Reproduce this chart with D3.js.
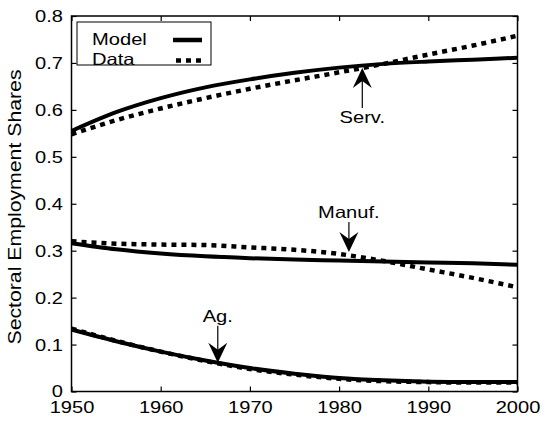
<!DOCTYPE html>
<html lang="en">
<head>
    <meta charset="UTF-8">
    <title>Sectoral Employment Shares</title>
    <style>
        body { margin: 0; background: #fff; }
        text { font-family: "Liberation Sans", Arial, sans-serif; fill: #000; }
    </style>
</head>
<body>
<div id="chart"></div>
<script src="https://d3js.org/d3.v7.min.js"></script>
<script>
    // data
    const years = [1950, 1955, 1960, 1965, 1970, 1975, 1980, 1985, 1990, 1995, 2000];
    const servModel = [0.555, 0.595, 0.625, 0.648, 0.665, 0.679, 0.690, 0.698, 0.703, 0.707, 0.711];
    const servData  = [0.548, 0.578, 0.603, 0.625, 0.645, 0.663, 0.680, 0.698, 0.718, 0.737, 0.758];
    const manufModel = [0.316, 0.303, 0.294, 0.288, 0.284, 0.281, 0.279, 0.277, 0.275, 0.273, 0.270];
    const manufData  = [0.320, 0.315, 0.313, 0.312, 0.307, 0.302, 0.293, 0.278, 0.260, 0.242, 0.222];
    const agModel = [0.132, 0.107, 0.085, 0.066, 0.050, 0.038, 0.029, 0.024, 0.021, 0.020, 0.020];
    const agData  = [0.134, 0.108, 0.085, 0.065, 0.048, 0.036, 0.027, 0.022, 0.020, 0.019, 0.019];
    const xTicks = [1950, 1960, 1970, 1980, 1990, 2000];
    const yTicks = [0, 0.1, 0.2, 0.3, 0.4, 0.5, 0.6, 0.7, 0.8];
    // annotations: label, year and share at the arrow tip
    const notes = [
        {label: "Serv.", year: 1982.6, value: 0.689, dir: "up", len: 40},
        {label: "Manuf.", year: 1981.1, value: 0.297, dir: "down", len: 30},
        {label: "Ag.", year: 1966.4, value: 0.061, dir: "down", len: 37}
    ];

    const W = 545, H = 432;
    const margin = {top: 16, right: 27.5, bottom: 40.5, left: 71.5};
    const width = W - margin.left - margin.right,
        height = H - margin.top - margin.bottom;

    // the reference text is a bit wider than plain helvetica
    function stretch(sel, k) {
        sel.each(function () {
            const len = this.getComputedTextLength();
            d3.select(this).attr("textLength", len * k).attr("lengthAdjust", "spacingAndGlyphs");
        });
    }

    const svg = d3.select("#chart").append("svg")
        .attr("width", W).attr("height", H);

    const g = svg.append("g")
        .attr("transform", `translate(${margin.left},${margin.top})`);

    const x = d3.scaleLinear().domain([1950, 2000]).range([0, width]);
    const y = d3.scaleLinear().domain([0, 0.8]).range([height, 0]);

    // axes, matlab style: ticks inside on every side
    const fmtY = d => d === 0 ? "0" : d3.format(".1f")(d);
    g.append("g").attr("transform", `translate(0,${height})`)
        .call(d3.axisBottom(x).tickValues(xTicks).tickFormat(d3.format("d")).tickSizeInner(-5).tickSizeOuter(0).tickPadding(9))
        .call(a => a.selectAll("text").style("font-size", "17px").attr("dy", "0.72em").call(stretch, 1.18));
    g.append("g")
        .call(d3.axisTop(x).tickValues(xTicks).tickFormat("").tickSizeInner(-5).tickSizeOuter(0));
    g.append("g")
        .call(d3.axisLeft(y).tickValues(yTicks).tickFormat(fmtY).tickSizeInner(-5).tickSizeOuter(0).tickPadding(8.5))
        .call(a => a.selectAll("text").style("font-size", "17px").call(stretch, 1.18));
    g.append("g").attr("transform", `translate(${width},0)`)
        .call(d3.axisRight(y).tickValues(yTicks).tickFormat("").tickSizeInner(-5).tickSizeOuter(0));
    g.selectAll(".domain").remove();
    g.selectAll(".tick line").attr("stroke", "#000").attr("stroke-width", 1.2);
    g.append("rect").attr("width", width).attr("height", height)
        .attr("fill", "none").attr("stroke", "#000").attr("stroke-width", 1.5);

    // y label
    svg.append("text")
        .attr("transform", `translate(21,207) rotate(-90)`)
        .attr("text-anchor", "middle")
        .style("font-size", "18px")
        .attr("textLength", 275).attr("lengthAdjust", "spacingAndGlyphs")
        .text("Sectoral Employment Shares");

    const line = d3.line()
        .x((d, i) => x(years[i]))
        .y(d => y(d))
        .curve(d3.curveMonotoneX);

    const solid = [servModel, manufModel, agModel];
    const dotted = [servData, manufData, agData];

    g.selectAll(".data-line").data(dotted).join("path")
        .attr("class", "data-line")
        .attr("d", line)
        .attr("fill", "none").attr("stroke", "#000")
        .attr("stroke-width", 4.5).attr("stroke-dasharray", "5,5");

    g.selectAll(".model-line").data(solid).join("path")
        .attr("class", "model-line")
        .attr("d", line)
        .attr("fill", "none").attr("stroke", "#000")
        .attr("stroke-width", 4);

    // annotations with arrows
    notes.forEach(n => {
        const tx = x(n.year), ty = y(n.value);
        const s = n.dir === "up" ? 1 : -1;
        const tail = ty + s * n.len;
        g.append("line")
            .attr("x1", tx).attr("x2", tx)
            .attr("y1", tail).attr("y2", ty + s * 10)
            .attr("stroke", "#000").attr("stroke-width", 1.2);
        g.append("path")
            .attr("d", `M${tx},${ty} L${tx - 9.5},${ty + s * 20} L${tx},${ty + s * 13} L${tx + 9.5},${ty + s * 20} Z`)
            .attr("fill", "#000");
        g.append("text")
            .attr("x", tx)
            .attr("y", n.dir === "up" ? tail + 15 : tail - 4)
            .attr("text-anchor", "middle")
            .style("font-size", "16.5px")
            .text(n.label)
            .call(stretch, 1.22);
    });

    // legend
    const lg = svg.append("g");
    lg.append("rect").attr("x", 77).attr("y", 22).attr("width", 134).attr("height", 43)
        .attr("fill", "#fff").attr("stroke", "#000").attr("stroke-width", 1);
    const legendItems = [{name: "Model", dash: null}, {name: "Data", dash: "5,5"}];
    legendItems.forEach((d, i) => {
        const yy = 40 + i * 20.5;
        lg.append("text").attr("x", 92).attr("y", yy + 4.5).style("font-size", "16.5px").text(d.name)
            .call(stretch, 1.22);
        lg.append("line").attr("x1", d.dash ? 176 : 173).attr("x2", 202).attr("y1", yy).attr("y2", yy)
            .attr("stroke", "#000").attr("stroke-width", 4.5)
            .attr("stroke-dasharray", d.dash);
    });
</script>
</body>
</html>
